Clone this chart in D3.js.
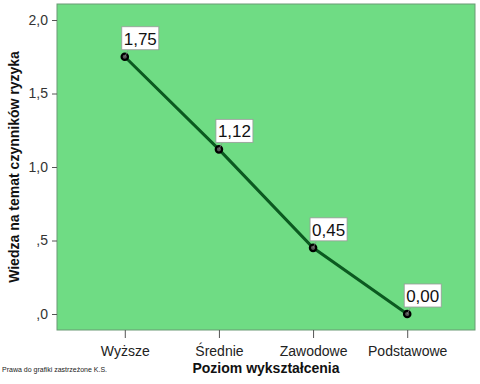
<!DOCTYPE html>
<html><head><meta charset="utf-8">
<script src="https://cdn.jsdelivr.net/npm/d3@7"></script>
<style>body{margin:0;background:#fff}svg{display:block}text{font-family:"Liberation Sans",Arial,sans-serif}</style>
</head><body>
<script>
const categories = ["Wyższe","Średnie","Zawodowe","Podstawowe"];
const values = [1.75, 1.12, 0.45, 0.00];
const yTicks = [0, 0.5, 1.0, 1.5, 2.0];
const yTickLabels = [",0", ",5", "1,0", "1,5", "2,0"];
const valueLabels = ["1,75","1,12","0,45","0,00"];

const W = 480, H = 384;
const L = 57, R = 475, T = 4, B = 330;
const svg = d3.select("body").append("svg").attr("width", W).attr("height", H);

svg.append("rect").attr("x", L).attr("y", T).attr("width", R - L).attr("height", B - T)
  .attr("fill", "#6fdc84").attr("stroke", "#6a9a74").attr("stroke-width", 1);

const x = d3.scalePoint().domain(categories).range([L, R]).padding(0.72);
const y = d3.scaleLinear().domain([0, 2]).range([314, 20]);

const yAxis = svg.append("g").attr("transform", `translate(${L},0)`)
  .call(d3.axisLeft(y).tickValues(yTicks).tickFormat((d, i) => yTickLabels[i]).tickSize(5).tickSizeOuter(0));
yAxis.select(".domain").remove();
yAxis.selectAll("line").attr("stroke", "#555");
yAxis.selectAll("text").attr("font-size", 14).attr("fill", "#333").attr("dx", -1);

const xAxis = svg.append("g").attr("transform", `translate(0,${B})`)
  .call(d3.axisBottom(x).tickSize(8).tickSizeOuter(0));
xAxis.select(".domain").remove();
xAxis.selectAll("line").attr("stroke", "#555");
xAxis.selectAll("text").attr("font-size", 14).attr("fill", "#222").attr("dy", "1.05em");

svg.append("path").datum(values)
  .attr("d", d3.line().x((d, i) => x(categories[i])).y(d => y(d)))
  .attr("fill", "none").attr("stroke", "#0b5a20").attr("stroke-width", 3);

svg.selectAll("circle.pt").data(values).enter().append("circle")
  .attr("cx", (d, i) => x(categories[i])).attr("cy", d => y(d))
  .attr("r", 3.2).attr("fill", "#555").attr("stroke", "#000").attr("stroke-width", 2.2);

const lab = svg.selectAll("g.lab").data(values).enter().append("g")
  .attr("transform", (d, i) => `translate(${x(categories[i]) - 3},${y(d) - 30})`);
lab.append("line").attr("x1", 3).attr("y1", 30).attr("x2", 6).attr("y2", 24).attr("stroke", "#888").attr("stroke-width", 0.7);
lab.append("rect").attr("x", 0).attr("y", 0).attr("width", 37).attr("height", 23)
  .attr("fill", "#fff").attr("stroke", "#999").attr("stroke-width", 0.8);
lab.append("text").attr("x", 18.5).attr("y", 18).attr("text-anchor", "middle")
  .attr("font-size", 17).attr("fill", "#111").text((d, i) => valueLabels[i]);

svg.append("text").attr("x", 266).attr("y", 373).attr("text-anchor", "middle")
  .attr("font-size", 14).attr("font-weight", "bold").attr("fill", "#111").text("Poziom wykształcenia");

svg.append("text").attr("transform", "translate(19,167) rotate(-90)").attr("text-anchor", "middle")
  .attr("font-size", 14).attr("font-weight", "bold").attr("fill", "#111").text("Wiedza na temat czynników ryzyka");

svg.append("text").attr("x", 2).attr("y", 372).attr("font-size", 7).attr("fill", "#222")
  .text("Prawa do grafiki zastrzeżone K.S.");
</script>
</body></html>
